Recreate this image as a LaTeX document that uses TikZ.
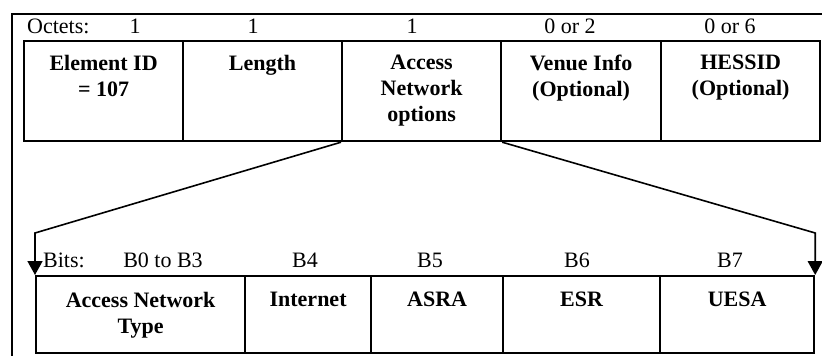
\documentclass[tikz,border=0pt]{standalone}
\usepackage{fontspec}
\setmainfont{Liberation Serif}
\usetikzlibrary{arrows.meta}
\tikzset{
  field/.style={draw, line width=2.2pt, rectangle, anchor=north west, inner sep=0pt},
  fieldtext/.style={anchor=north, inner sep=0pt, align=center,
    font=\fontsize{22}{26}\selectfont\bfseries},
  sizelabel/.style={anchor=base, inner sep=0pt, font=\fontsize{22}{26}\selectfont},
  frame/.style={line width=1.4pt},
  conn/.style={line width=1.6pt, -{Triangle[length=14pt,width=15pt]}},
}
\begin{document}
\begin{tikzpicture}[x=1pt,y=-1pt]
\useasboundingbox (0,0) rectangle (822,356);
% outer frame
\draw[frame] (12,356) -- (12,14) -- (822,14);

% element fields (octets)
\node[field, minimum width=159pt, minimum height=100pt] (eid)  at (23,40)  {};
\node[field, minimum width=159pt, minimum height=100pt] (len)  at (182,40) {};
\node[field, minimum width=159pt, minimum height=100pt] (anop) at (341,40) {};
\node[field, minimum width=160pt, minimum height=100pt] (venue) at (500,40) {};
\node[field, minimum width=159pt, minimum height=100pt] (hessid) at (660,40) {};

\node[fieldtext] (teid)   at ([yshift=-15pt]eid.north)    {Element ID\\= 107};
\node[fieldtext] (tlen)   at ([yshift=-15pt]len.north)    {Length};
\node[fieldtext] (tanop)  at ([yshift=-15pt]anop.north)   {Access\\Network\\options};
\node[fieldtext] (tvenue) at ([yshift=-15pt]venue.north)  {Venue Info\\(Optional)};
\node[fieldtext] (thess)  at ([yshift=-15pt]hessid.north) {HESSID\\(Optional)};

% octet counts
\node[sizelabel, anchor=base west] (oct) at (27,33) {Octets:};
\node[sizelabel] (o1) at (135,33) {1};
\node[sizelabel] (o2) at (253,33) {1};
\node[sizelabel] (o3) at (412,33) {1};
\node[sizelabel] (o4) at (570,33) {0 or 2};
\node[sizelabel] (o5) at (730,33) {0 or 6};

% bit fields of Access Network options
\node[field, minimum width=209pt, minimum height=77pt] (ant)  at (35,275)  {};
\node[field, minimum width=126pt, minimum height=77pt] (inet) at (244,275) {};
\node[field, minimum width=132pt, minimum height=77pt] (asra) at (370,275) {};
\node[field, minimum width=157pt, minimum height=77pt] (esr)  at (502,275) {};
\node[field, minimum width=154pt, minimum height=77pt] (uesa) at (659,275) {};

\node[fieldtext] (tant)  at ([yshift=-17pt]ant.north)  {Access Network\\Type};
\node[fieldtext] (tinet) at ([yshift=-17pt]inet.north) {Internet};
\node[fieldtext] (tasra) at ([yshift=-17pt]asra.north) {ASRA};
\node[fieldtext] (tesr)  at ([yshift=-17pt]esr.north)  {ESR};
\node[fieldtext] (tuesa) at ([yshift=-17pt]uesa.north) {UESA};

% bit positions
\node[sizelabel, anchor=base west] (bits) at (43,267) {Bits:};
\node[sizelabel] (b03) at (163,267) {B0 to B3};
\node[sizelabel] (b4)  at (305,267) {B4};
\node[sizelabel] (b5)  at (430,267) {B5};
\node[sizelabel] (b6)  at (577,267) {B6};
\node[sizelabel] (b7)  at (730,267) {B7};

% expansion lines
\coordinate (lk) at (ant.north west |- 0,233);
\coordinate (rk) at (uesa.north east |- 0,233);
\draw[conn] (anop.south west) -- (lk) -- (ant.north west);
\draw[conn] (anop.south east) -- (rk) -- (uesa.north east);
\end{tikzpicture}
\end{document}
